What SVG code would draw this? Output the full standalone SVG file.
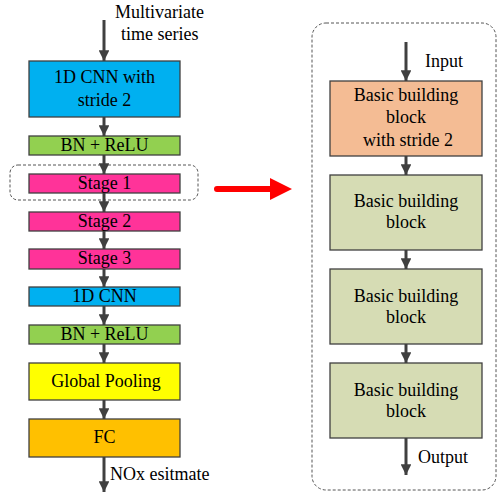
<svg xmlns="http://www.w3.org/2000/svg" width="498" height="493" viewBox="0 0 498 493">
  <style>
    .box { stroke: #404040; stroke-width: 1.3; }
    .lbl { font-size: 18px; fill: #000; text-anchor: middle; }
    .note { font-size: 18px; fill: #000; }
    .link { stroke: #404040; stroke-width: 3; fill: none; marker-end: url(#head); }
    .frame { fill: none; stroke: #555; stroke-width: 1; stroke-dasharray: 3 2; }
  </style>
  <defs>
    <marker id="head" viewBox="0 0 10 10" refX="10" refY="5" markerWidth="3.6" markerHeight="3.6" orient="auto" markerUnits="strokeWidth">
      <path d="M0,0 L10,5 L0,10 z" fill="#404040"/>
    </marker>
  </defs>
  <rect width="498" height="493" fill="#fff"/>

  <!-- dashed outlines -->
  <rect class="frame" x="10" y="165" width="188" height="35" rx="8"/>
  <rect class="frame" x="312" y="23" width="184" height="467" rx="14"/>

  <!-- connectors -->
  <g id="connectors">
    <line class="link" x1="104" y1="20" x2="104" y2="61"/>
    <line class="link" x1="104" y1="117" x2="104" y2="136"/>
    <line class="link" x1="104" y1="155" x2="104" y2="174"/>
    <line class="link" x1="104" y1="193" x2="104" y2="212"/>
    <line class="link" x1="104" y1="231" x2="104" y2="249"/>
    <line class="link" x1="104" y1="269" x2="104" y2="287"/>
    <line class="link" x1="104" y1="306" x2="104" y2="325"/>
    <line class="link" x1="104" y1="344" x2="104" y2="363"/>
    <line class="link" x1="104" y1="400" x2="104" y2="419"/>
    <line class="link" x1="104" y1="457" x2="104" y2="492"/>
    <line class="link" x1="406" y1="42" x2="406" y2="81"/>
    <line class="link" x1="406" y1="156" x2="406" y2="175"/>
    <line class="link" x1="406" y1="250" x2="406" y2="269"/>
    <line class="link" x1="406" y1="344" x2="406" y2="363"/>
    <line class="link" x1="406" y1="438" x2="406" y2="475"/>
    <!-- expansion arrow -->
    <path d="M217,186 L270,186 L270,178 L292,189 L270,200 L270,192 L217,192 A3,3 0 0 1 217,186 z" fill="#ff0000"/>
  </g>

  <text class="note" font-family="Liberation Serif" x="115" y="18">Multivariate</text>
  <text class="note" font-family="Liberation Serif" x="121" y="40">time series</text>
  <text class="note" font-family="Liberation Serif" x="110" y="480">NOx esitmate</text>
  <text class="note" font-family="Liberation Serif" x="425" y="67">Input</text>
  <text class="note" font-family="Liberation Serif" x="418" y="463">Output</text>

  <!-- main network -->
  <g id="cnn1">
    <rect class="box" x="29" y="61" width="151" height="56" fill="#00b0f0"/>
    <text class="lbl" font-family="Liberation Serif" x="104.5" y="83">1D CNN with</text>
    <text class="lbl" font-family="Liberation Serif" x="104.5" y="106">stride 2</text>
  </g>
  <g id="bnrelu1">
    <rect class="box" x="29" y="136" width="151" height="19" fill="#92d050"/>
    <text class="lbl" font-family="Liberation Serif" x="104.5" y="151">BN + ReLU</text>
  </g>
  <g id="stage1">
    <rect class="box" x="29" y="174" width="151" height="19" fill="#ff3399"/>
    <text class="lbl" font-family="Liberation Serif" x="104.5" y="189">Stage 1</text>
  </g>
  <g id="stage2">
    <rect class="box" x="29" y="212" width="151" height="19" fill="#ff3399"/>
    <text class="lbl" font-family="Liberation Serif" x="104.5" y="227">Stage 2</text>
  </g>
  <g id="stage3">
    <rect class="box" x="29" y="249" width="151" height="20" fill="#ff3399"/>
    <text class="lbl" font-family="Liberation Serif" x="104.5" y="264">Stage 3</text>
  </g>
  <g id="cnn2">
    <rect class="box" x="29" y="287" width="151" height="19" fill="#00b0f0"/>
    <text class="lbl" font-family="Liberation Serif" x="104.5" y="302">1D CNN</text>
  </g>
  <g id="bnrelu2">
    <rect class="box" x="29" y="325" width="151" height="19" fill="#92d050"/>
    <text class="lbl" font-family="Liberation Serif" x="104.5" y="340">BN + ReLU</text>
  </g>
  <g id="pool">
    <rect class="box" x="29" y="363" width="151" height="37" fill="#ffff00"/>
    <text class="lbl" font-family="Liberation Serif" x="106" y="387">Global Pooling</text>
  </g>
  <g id="fc">
    <rect class="box" x="29" y="419" width="151" height="38" fill="#ffc000"/>
    <text class="lbl" font-family="Liberation Serif" x="104.5" y="443">FC</text>
  </g>

  <!-- stage detail -->
  <g id="block1">
    <rect class="box" x="330" y="81" width="152" height="75" fill="#f4bc94"/>
    <text class="lbl" font-family="Liberation Serif" x="406" y="101">Basic building</text>
    <text class="lbl" font-family="Liberation Serif" x="406" y="123">block</text>
    <text class="lbl" font-family="Liberation Serif" x="408" y="146">with stride 2</text>
  </g>
  <g id="block2">
    <rect class="box" x="330" y="175" width="152" height="75" fill="#d6dcb4"/>
    <text class="lbl" font-family="Liberation Serif" x="406" y="207">Basic building</text>
    <text class="lbl" font-family="Liberation Serif" x="406" y="228">block</text>
  </g>
  <g id="block3">
    <rect class="box" x="330" y="269" width="152" height="75" fill="#d6dcb4"/>
    <text class="lbl" font-family="Liberation Serif" x="406" y="302">Basic building</text>
    <text class="lbl" font-family="Liberation Serif" x="406" y="323">block</text>
  </g>
  <g id="block4">
    <rect class="box" x="330" y="363" width="152" height="75" fill="#d6dcb4"/>
    <text class="lbl" font-family="Liberation Serif" x="406" y="396">Basic building</text>
    <text class="lbl" font-family="Liberation Serif" x="406" y="417">block</text>
  </g>
</svg>
